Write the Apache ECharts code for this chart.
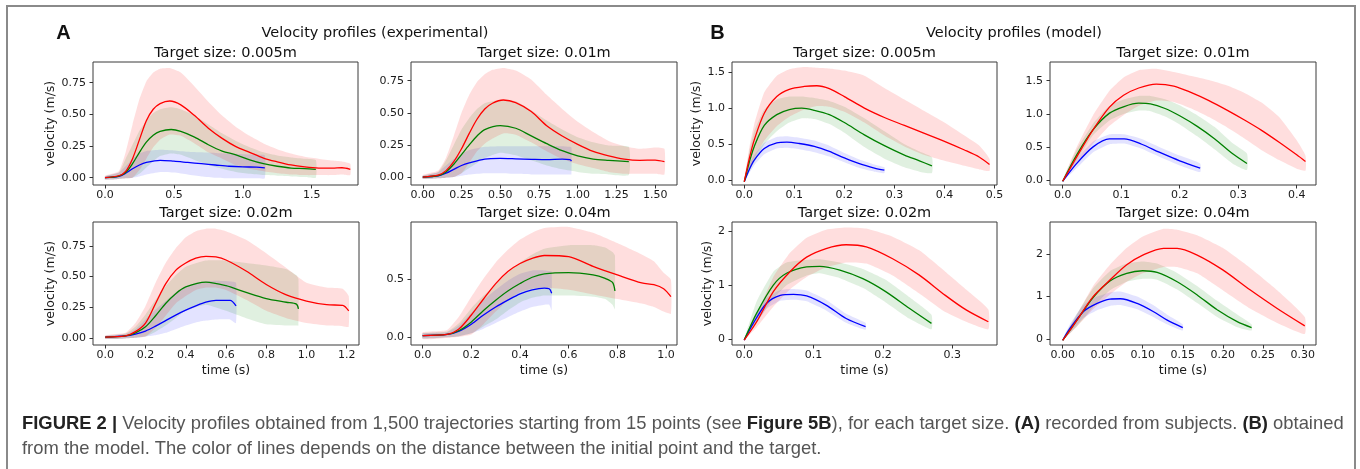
<!DOCTYPE html>
<html>
<head>
<meta charset="utf-8">
<title>Velocity profiles</title>
<script src="https://cdn.jsdelivr.net/npm/echarts@6/dist/echarts.min.js"></script>
<style>
	html, body { margin: 0; padding: 0; background: #fff; }
	#chart { width: 1360px; height: 469px; }
</style>
</head>
<body>
<div id="chart"></div>
<script>
// rows: [time, mean, lower, upper]
// (A) experimental
const a1Red = [[0, 0, -0.015, 0.015], [0.1, 0.015, -0.01, 0.05], [0.15, 0.05, -0.005, 0.2], [0.2, 0.15, 0, 0.42], [0.25, 0.3, 0.06, 0.62], [0.3, 0.45, 0.15, 0.76], [0.35, 0.54, 0.24, 0.83], [0.4, 0.585, 0.3, 0.86], [0.47, 0.605, 0.34, 0.865], [0.55, 0.575, 0.33, 0.83], [0.65, 0.49, 0.27, 0.72], [0.75, 0.39, 0.2, 0.6], [0.85, 0.31, 0.15, 0.49], [0.95, 0.245, 0.1, 0.4], [1.05, 0.2, 0.07, 0.33], [1.15, 0.155, 0.05, 0.27], [1.25, 0.125, 0.035, 0.225], [1.35, 0.1, 0.025, 0.19], [1.45, 0.085, 0.02, 0.165], [1.55, 0.076, 0.02, 0.15], [1.65, 0.075, 0.02, 0.135], [1.72, 0.078, 0.025, 0.128], [1.78, 0.066, 0.02, 0.11]]
const a1Green = [[0, 0, -0.015, 0.01], [0.1, 0.012, -0.01, 0.04], [0.15, 0.04, -0.005, 0.15], [0.2, 0.11, 0, 0.26], [0.25, 0.2, 0.03, 0.37], [0.3, 0.28, 0.08, 0.45], [0.35, 0.335, 0.13, 0.51], [0.4, 0.365, 0.17, 0.54], [0.48, 0.38, 0.19, 0.555], [0.55, 0.365, 0.18, 0.54], [0.65, 0.32, 0.14, 0.49], [0.75, 0.26, 0.1, 0.42], [0.85, 0.21, 0.07, 0.35], [0.95, 0.18, 0.045, 0.29], [1.05, 0.14, 0.03, 0.24], [1.15, 0.11, 0.02, 0.2], [1.25, 0.09, 0.015, 0.175], [1.35, 0.076, 0.01, 0.16], [1.45, 0.072, 0.005, 0.15], [1.53, 0.066, 0, 0.14]]
const a1Blue = [[0, 0, -0.015, 0.01], [0.1, 0.01, -0.01, 0.04], [0.15, 0.035, -0.005, 0.09], [0.2, 0.07, 0, 0.15], [0.25, 0.1, 0.01, 0.19], [0.3, 0.12, 0.025, 0.21], [0.4, 0.137, 0.045, 0.22], [0.5, 0.13, 0.04, 0.215], [0.6, 0.12, 0.025, 0.205], [0.7, 0.11, 0.01, 0.2], [0.8, 0.1, 0, 0.195], [0.9, 0.09, -0.005, 0.19], [1.0, 0.085, -0.005, 0.185], [1.1, 0.083, -0.005, 0.18], [1.16, 0.078, -0.005, 0.175]]

const a2Red = [[0, 0, -0.015, 0.015], [0.1, 0.015, -0.01, 0.05], [0.15, 0.05, -0.005, 0.15], [0.2, 0.12, 0, 0.32], [0.25, 0.22, 0.03, 0.5], [0.3, 0.34, 0.11, 0.64], [0.35, 0.45, 0.2, 0.74], [0.4, 0.53, 0.26, 0.8], [0.45, 0.575, 0.3, 0.835], [0.52, 0.6, 0.34, 0.85], [0.6, 0.58, 0.33, 0.83], [0.7, 0.51, 0.27, 0.76], [0.8, 0.4, 0.2, 0.64], [0.9, 0.32, 0.14, 0.53], [1.0, 0.255, 0.1, 0.43], [1.1, 0.2, 0.07, 0.35], [1.2, 0.165, 0.04, 0.28], [1.3, 0.14, 0.025, 0.24], [1.4, 0.13, 0.025, 0.22], [1.5, 0.132, 0.025, 0.23], [1.56, 0.12, 0.02, 0.22]]
const a2Green = [[0, 0, -0.015, 0.01], [0.1, 0.012, -0.01, 0.04], [0.15, 0.04, -0.005, 0.13], [0.2, 0.1, 0, 0.25], [0.25, 0.175, 0.03, 0.37], [0.3, 0.25, 0.07, 0.46], [0.35, 0.32, 0.11, 0.53], [0.4, 0.37, 0.15, 0.575], [0.5, 0.4, 0.19, 0.6], [0.6, 0.38, 0.17, 0.59], [0.7, 0.32, 0.13, 0.52], [0.8, 0.26, 0.09, 0.44], [0.9, 0.205, 0.06, 0.37], [1.0, 0.165, 0.04, 0.31], [1.1, 0.14, 0.025, 0.27], [1.2, 0.13, 0.02, 0.245], [1.33, 0.12, 0.015, 0.235]]
const a2Blue = [[0, 0, -0.015, 0.01], [0.1, 0.01, -0.01, 0.04], [0.15, 0.03, -0.005, 0.09], [0.2, 0.06, 0, 0.14], [0.25, 0.09, 0.01, 0.18], [0.3, 0.11, 0.02, 0.21], [0.4, 0.14, 0.03, 0.235], [0.5, 0.145, 0.03, 0.24], [0.6, 0.142, 0.025, 0.24], [0.7, 0.138, 0.02, 0.24], [0.8, 0.135, 0.02, 0.24], [0.9, 0.14, 0.02, 0.24], [0.95, 0.135, 0.02, 0.235], [0.96, 0.125, 0.02, 0.23]]

const a3Red = [[0, 0.005, -0.01, 0.02], [0.1, 0.015, -0.005, 0.04], [0.15, 0.05, 0, 0.12], [0.2, 0.12, 0.01, 0.26], [0.25, 0.28, 0.08, 0.45], [0.3, 0.44, 0.18, 0.61], [0.35, 0.55, 0.28, 0.73], [0.4, 0.61, 0.34, 0.82], [0.45, 0.65, 0.39, 0.87], [0.5, 0.665, 0.41, 0.89], [0.55, 0.66, 0.41, 0.89], [0.6, 0.635, 0.39, 0.87], [0.7, 0.545, 0.31, 0.8], [0.8, 0.435, 0.22, 0.69], [0.9, 0.35, 0.16, 0.57], [1.0, 0.3, 0.12, 0.45], [1.1, 0.27, 0.1, 0.41], [1.18, 0.265, 0.095, 0.4], [1.21, 0.22, 0.09, 0.34]]
const a3Green = [[0, 0.005, -0.01, 0.015], [0.1, 0.015, -0.005, 0.035], [0.15, 0.04, 0, 0.09], [0.2, 0.09, 0.01, 0.19], [0.25, 0.18, 0.05, 0.31], [0.3, 0.28, 0.1, 0.42], [0.35, 0.36, 0.16, 0.51], [0.4, 0.415, 0.22, 0.58], [0.5, 0.455, 0.27, 0.63], [0.6, 0.425, 0.22, 0.63], [0.7, 0.37, 0.16, 0.61], [0.8, 0.32, 0.11, 0.59], [0.9, 0.29, 0.1, 0.56], [0.95, 0.275, 0.1, 0.51], [0.96, 0.235, 0.1, 0.48]]
const a3Blue = [[0, 0.005, -0.01, 0.015], [0.1, 0.015, -0.005, 0.03], [0.15, 0.03, 0, 0.07], [0.2, 0.055, 0.01, 0.15], [0.25, 0.095, 0.02, 0.23], [0.3, 0.14, 0.04, 0.3], [0.35, 0.185, 0.07, 0.37], [0.4, 0.225, 0.1, 0.42], [0.45, 0.26, 0.125, 0.45], [0.5, 0.29, 0.14, 0.46], [0.55, 0.305, 0.15, 0.465], [0.62, 0.305, 0.15, 0.46], [0.65, 0.26, 0.12, 0.45]]

const a4Red = [[0, 0.01, -0.02, 0.04], [0.1, 0.02, -0.01, 0.06], [0.15, 0.07, 0, 0.18], [0.2, 0.19, 0.02, 0.35], [0.25, 0.33, 0.11, 0.51], [0.3, 0.465, 0.22, 0.65], [0.35, 0.57, 0.32, 0.76], [0.4, 0.64, 0.39, 0.85], [0.45, 0.685, 0.42, 0.91], [0.5, 0.71, 0.43, 0.95], [0.6, 0.7, 0.41, 0.96], [0.7, 0.615, 0.37, 0.91], [0.8, 0.54, 0.33, 0.82], [0.9, 0.47, 0.29, 0.72], [0.95, 0.455, 0.26, 0.66], [0.99, 0.42, 0.22, 0.56], [1.02, 0.35, 0.2, 0.5]]
const a4Green = [[0, 0.01, -0.015, 0.03], [0.1, 0.02, -0.005, 0.045], [0.15, 0.055, 0.005, 0.12], [0.2, 0.13, 0.03, 0.25], [0.25, 0.23, 0.09, 0.36], [0.3, 0.32, 0.15, 0.46], [0.35, 0.4, 0.23, 0.56], [0.4, 0.465, 0.3, 0.65], [0.45, 0.52, 0.34, 0.72], [0.5, 0.55, 0.36, 0.77], [0.6, 0.56, 0.36, 0.8], [0.7, 0.54, 0.35, 0.8], [0.75, 0.51, 0.33, 0.78], [0.78, 0.475, 0.28, 0.74], [0.79, 0.4, 0.24, 0.71]]
const a4Blue = [[0, 0.01, -0.015, 0.03], [0.1, 0.02, -0.005, 0.04], [0.15, 0.05, 0.005, 0.1], [0.2, 0.11, 0.03, 0.21], [0.25, 0.19, 0.07, 0.32], [0.3, 0.26, 0.12, 0.41], [0.35, 0.32, 0.17, 0.49], [0.4, 0.375, 0.22, 0.55], [0.45, 0.41, 0.26, 0.58], [0.5, 0.425, 0.28, 0.58], [0.52, 0.42, 0.28, 0.575], [0.53, 0.38, 0.23, 0.57]]

// (B) model
const b1Red = [[0, -0.02, -0.02, 0], [0.01, 0.3, 0.15, 0.45], [0.02, 0.56, 0.3, 0.78], [0.04, 0.93, 0.55, 1.22], [0.065, 1.16, 0.75, 1.45], [0.09, 1.26, 0.88, 1.54], [0.12, 1.3, 0.98, 1.57], [0.145, 1.31, 1.03, 1.56], [0.17, 1.27, 1.02, 1.55], [0.2, 1.16, 0.95, 1.52], [0.24, 1.0, 0.8, 1.45], [0.28, 0.87, 0.62, 1.28], [0.32, 0.76, 0.47, 1.12], [0.36, 0.65, 0.35, 0.96], [0.4, 0.54, 0.27, 0.8], [0.44, 0.42, 0.2, 0.62], [0.47, 0.32, 0.15, 0.48], [0.49, 0.22, 0.13, 0.3]]
const b1Green = [[0, -0.02, -0.02, 0], [0.01, 0.25, 0.12, 0.4], [0.02, 0.47, 0.25, 0.68], [0.04, 0.76, 0.5, 0.98], [0.065, 0.91, 0.68, 1.12], [0.09, 0.98, 0.8, 1.16], [0.115, 1.0, 0.86, 1.16], [0.14, 0.97, 0.85, 1.14], [0.17, 0.91, 0.78, 1.1], [0.2, 0.8, 0.66, 1.02], [0.24, 0.63, 0.46, 0.86], [0.28, 0.48, 0.3, 0.68], [0.32, 0.35, 0.18, 0.5], [0.35, 0.27, 0.12, 0.4], [0.375, 0.2, 0.1, 0.32]]
const b1Blue = [[0, -0.02, -0.02, 0], [0.01, 0.15, 0.1, 0.22], [0.02, 0.28, 0.21, 0.35], [0.04, 0.44, 0.36, 0.52], [0.065, 0.52, 0.44, 0.6], [0.085, 0.53, 0.45, 0.61], [0.11, 0.51, 0.43, 0.59], [0.14, 0.47, 0.39, 0.55], [0.17, 0.4, 0.33, 0.48], [0.2, 0.31, 0.25, 0.38], [0.23, 0.23, 0.17, 0.29], [0.26, 0.17, 0.12, 0.22], [0.28, 0.14, 0.1, 0.18]]

const b2Red = [[0, -0.02, -0.02, 0], [0.024, 0.35, 0.25, 0.5], [0.052, 0.76, 0.55, 0.98], [0.08, 1.1, 0.82, 1.35], [0.104, 1.28, 0.98, 1.55], [0.13, 1.39, 1.12, 1.66], [0.16, 1.45, 1.2, 1.68], [0.19, 1.42, 1.18, 1.63], [0.22, 1.32, 1.08, 1.57], [0.25, 1.2, 0.95, 1.51], [0.28, 1.06, 0.8, 1.43], [0.31, 0.91, 0.63, 1.32], [0.34, 0.75, 0.45, 1.17], [0.37, 0.57, 0.3, 0.95], [0.4, 0.38, 0.17, 0.6], [0.415, 0.28, 0.14, 0.37]]
const b2Green = [[0, -0.02, -0.02, 0], [0.024, 0.38, 0.3, 0.46], [0.052, 0.76, 0.68, 0.85], [0.08, 1.01, 0.9, 1.12], [0.105, 1.11, 1.0, 1.22], [0.13, 1.16, 1.05, 1.27], [0.15, 1.15, 1.04, 1.27], [0.175, 1.08, 0.96, 1.22], [0.2, 0.97, 0.84, 1.13], [0.23, 0.81, 0.66, 0.98], [0.26, 0.62, 0.46, 0.8], [0.29, 0.4, 0.25, 0.56], [0.315, 0.25, 0.15, 0.4]]
const b2Blue = [[0, -0.02, -0.02, 0], [0.024, 0.25, 0.18, 0.32], [0.052, 0.5, 0.42, 0.58], [0.08, 0.62, 0.54, 0.69], [0.105, 0.62, 0.55, 0.69], [0.135, 0.54, 0.47, 0.62], [0.165, 0.42, 0.35, 0.5], [0.2, 0.29, 0.22, 0.37], [0.235, 0.18, 0.12, 0.25]]

const b3Red = [[0, -0.02, -0.02, 0], [0.018, 0.32, 0.22, 0.45], [0.042, 0.88, 0.6, 1.15], [0.066, 1.25, 0.92, 1.6], [0.09, 1.52, 1.15, 1.88], [0.118, 1.68, 1.33, 2.03], [0.147, 1.75, 1.42, 2.07], [0.176, 1.71, 1.4, 2.05], [0.214, 1.49, 1.18, 1.9], [0.252, 1.19, 0.85, 1.65], [0.29, 0.81, 0.5, 1.25], [0.32, 0.54, 0.32, 0.92], [0.352, 0.32, 0.18, 0.55]]
const b3Green = [[0, -0.02, -0.02, 0], [0.018, 0.48, 0.3, 0.7], [0.042, 1.0, 0.75, 1.25], [0.061, 1.22, 1.0, 1.42], [0.09, 1.34, 1.18, 1.47], [0.109, 1.35, 1.22, 1.48], [0.138, 1.28, 1.13, 1.42], [0.171, 1.12, 0.95, 1.3], [0.204, 0.88, 0.68, 1.1], [0.238, 0.57, 0.38, 0.78], [0.27, 0.29, 0.18, 0.45]]
const b3Blue = [[0, -0.02, -0.02, 0], [0.013, 0.29, 0.2, 0.38], [0.032, 0.66, 0.56, 0.76], [0.052, 0.81, 0.71, 0.91], [0.071, 0.83, 0.73, 0.93], [0.09, 0.8, 0.7, 0.9], [0.118, 0.63, 0.53, 0.73], [0.147, 0.38, 0.3, 0.47], [0.175, 0.23, 0.17, 0.3]]

const b4Red = [[0, -0.03, -0.03, 0], [0.018, 0.45, 0.3, 0.58], [0.038, 1.0, 0.7, 1.25], [0.059, 1.39, 1.05, 1.75], [0.08, 1.75, 1.35, 2.15], [0.1, 1.98, 1.55, 2.42], [0.126, 2.14, 1.7, 2.6], [0.143, 2.14, 1.7, 2.58], [0.168, 1.98, 1.55, 2.45], [0.2, 1.63, 1.15, 2.15], [0.234, 1.16, 0.72, 1.68], [0.268, 0.72, 0.38, 1.15], [0.3025, 0.31, 0.12, 0.52]]
const b4Green = [[0, -0.03, -0.03, 0], [0.018, 0.45, 0.3, 0.6], [0.038, 0.98, 0.75, 1.2], [0.059, 1.37, 1.15, 1.6], [0.08, 1.55, 1.35, 1.78], [0.1, 1.61, 1.42, 1.83], [0.118, 1.57, 1.4, 1.78], [0.143, 1.35, 1.17, 1.56], [0.168, 1.04, 0.85, 1.25], [0.193, 0.69, 0.52, 0.9], [0.218, 0.41, 0.28, 0.58], [0.236, 0.27, 0.2, 0.35]]
const b4Blue = [[0, -0.03, -0.03, 0], [0.009, 0.25, 0.15, 0.35], [0.026, 0.65, 0.5, 0.8], [0.043, 0.84, 0.68, 1.0], [0.059, 0.94, 0.78, 1.1], [0.072, 0.95, 0.8, 1.12], [0.093, 0.84, 0.7, 1.0], [0.113, 0.65, 0.52, 0.8], [0.13, 0.45, 0.35, 0.58], [0.15, 0.27, 0.2, 0.35]]

// tick labels
const a1TicksX = [0, 0.5, 1.0, 1.5]
const a2TicksX = [0, 0.25, 0.5, 0.75, 1.0, 1.25, 1.5]
const a3TicksX = [0, 0.2, 0.4, 0.6, 0.8, 1.0, 1.2]
const a4TicksX = [0, 0.2, 0.4, 0.6, 0.8, 1.0]
const aTicksY = [0, 0.25, 0.5, 0.75]
const a4TicksY = [0, 0.5]
const b1TicksX = [0, 0.1, 0.2, 0.3, 0.4, 0.5]
const b2TicksX = [0, 0.1, 0.2, 0.3, 0.4]
const b3TicksX = [0, 0.1, 0.2, 0.3]
const b4TicksX = [0, 0.05, 0.1, 0.15, 0.2, 0.25, 0.3]
const bTopTicksY = [0, 0.5, 1.0, 1.5]
const bBotTicksY = [0, 1, 2]

const sizes = ['0.005m', '0.01m', '0.02m', '0.04m']

const FONT = "'DejaVu Sans', sans-serif"
const lineColor = { red: '#ff0000', green: '#008000', blue: '#0000ff' }
const bandColor = { red: 'rgba(255,0,0,0.13)', green: 'rgba(0,128,0,0.12)', blue: 'rgba(0,0,255,0.11)' }

// one entry per subplot
const panels = [
	{ box: [93, 62, 265, 123], x: [-0.087, 1.836], y: [-0.058, 0.913], tx: a1TicksX, ty: aTicksY, dx: 1, dy: 2, title: sizes[0], yName: 39, curves: { blue: a1Blue, green: a1Green, red: a1Red } },
	{ box: [411, 62, 266, 123], x: [-0.076, 1.641], y: [-0.062, 0.896], tx: a2TicksX, ty: aTicksY, dx: 2, dy: 2, title: sizes[1], curves: { blue: a2Blue, green: a2Green, red: a2Red } },
	{ box: [93, 222, 266, 123], x: [-0.061, 1.261], y: [-0.059, 0.945], tx: a3TicksX, ty: aTicksY, dx: 1, dy: 2, title: sizes[2], yName: 39, xName: true, curves: { blue: a3Blue, green: a3Green, red: a3Red } },
	{ box: [411, 222, 266, 123], x: [-0.048, 1.045], y: [-0.072, 1.003], tx: a4TicksX, ty: a4TicksY, dx: 1, dy: 1, title: sizes[3], xName: true, curves: { blue: a4Blue, green: a4Green, red: a4Red } },
	{ box: [732, 62, 265, 123], x: [-0.0245, 0.505], y: [-0.065, 1.639], tx: b1TicksX, ty: bTopTicksY, dx: 1, dy: 1, title: sizes[0], yName: 32, curves: { blue: b1Blue, green: b1Green, red: b1Red } },
	{ box: [1050, 62, 266, 123], x: [-0.0217, 0.433], y: [-0.076, 1.783], tx: b2TicksX, ty: bTopTicksY, dx: 1, dy: 1, title: sizes[1], curves: { blue: b2Blue, green: b2Green, red: b2Red } },
	{ box: [732, 222, 265, 123], x: [-0.0176, 0.3645], y: [-0.111, 2.172], tx: b3TicksX, ty: bBotTicksY, dx: 1, dy: 0, title: sizes[2], yName: 16, xName: true, curves: { blue: b3Blue, green: b3Green, red: b3Red } },
	{ box: [1050, 222, 266, 123], x: [-0.0159, 0.3165], y: [-0.141, 2.76], tx: b4TicksX, ty: bBotTicksY, dx: 2, dy: 0, title: sizes[3], xName: true, curves: { blue: b4Blue, green: b4Green, red: b4Red } }
]

const grid = []
const xAxis = []
const yAxis = []
const series = []
const graphics = []

// filled band between lower and upper, drawn with the axis scales
function bandSeries (i, rows, fill) {
	return {
		type: 'custom', xAxisIndex: i, yAxisIndex: i, silent: true, clip: true, z: 1,
		data: rows.map(r => [r[0], r[2], r[3]]),
		encode: { x: 0, y: [1, 2] },
		renderItem (params, api) {
			if (params.dataIndex !== 0) return null
			const upper = rows.map(r => api.coord([r[0], r[3]]))
			const lower = rows.map(r => api.coord([r[0], r[2]])).reverse()
			return {
				type: 'polygon',
				shape: { points: upper.concat(lower), smooth: 0.15 },
				style: { fill: fill, stroke: null }
			}
		}
	}
}

panels.forEach((p, i) => {
	grid.push({
		left: p.box[0], top: p.box[1], width: p.box[2], height: p.box[3],
		show: true, borderColor: '#3a3a3a', borderWidth: 1, backgroundColor: 'transparent',
		containLabel: false, outerBoundsMode: 'none'
	})
	xAxis.push({
		type: 'value', gridIndex: i, min: p.x[0], max: p.x[1],
		axisLine: { show: false, onZero: false },
		axisTick: { show: true, customValues: p.tx, length: 3.5, lineStyle: { color: '#333' } },
		axisLabel: { customValues: p.tx, margin: 5, fontSize: 11, fontFamily: FONT, color: '#1a1a1a', formatter: v => v.toFixed(p.dx) },
		splitLine: { show: false },
		name: p.xName ? 'time (s)' : '', nameLocation: 'middle', nameGap: 19,
		nameTextStyle: { fontSize: 12.5, fontFamily: FONT, color: '#1a1a1a' }
	})
	yAxis.push({
		type: 'value', gridIndex: i, min: p.y[0], max: p.y[1],
		axisLine: { show: false, onZero: false },
		axisTick: { show: true, customValues: p.ty, length: 3.5, lineStyle: { color: '#333' } },
		axisLabel: { customValues: p.ty, margin: 7, fontSize: 11, fontFamily: FONT, color: '#1a1a1a', formatter: v => v.toFixed(p.dy) },
		splitLine: { show: false },
		name: p.yName ? 'velocity (m/s)' : '', nameLocation: 'middle', nameRotate: 90, nameGap: p.yName ? p.yName - 6 : 0,
		nameTextStyle: { fontSize: 12.5, fontFamily: FONT, color: '#1a1a1a' }
	})

	// shaded bands first, then the mean lines on top
	;['blue', 'green', 'red'].forEach(c => {
		series.push(bandSeries(i, p.curves[c], bandColor[c]))
	})
	;['blue', 'green', 'red'].forEach(c => {
		series.push({
			type: 'line', xAxisIndex: i, yAxisIndex: i,
			data: p.curves[c].map(r => [r[0], r[1]]), smooth: 0.3, symbol: 'none', silent: true,
			lineStyle: { color: lineColor[c], width: 1.3 }, itemStyle: { color: lineColor[c] }, z: 3
		})
	})

	// subplot title
	graphics.push({
		type: 'text', x: p.box[0] + p.box[2] / 2, y: p.box[1] - 8.5,
		style: { text: 'Target size: ' + p.title, fontSize: 14.5, fontFamily: FONT, fill: '#111', textAlign: 'center', align: 'center', textVerticalAlign: 'middle', verticalAlign: 'middle' }
	})
})

// figure frame, panel letters and group titles
graphics.push(
	{ type: 'rect', shape: { x: 7, y: 6, width: 1348, height: 520 }, style: { fill: 'none', stroke: '#8a8a8a', lineWidth: 2 }, z: -1 },
	{ type: 'text', x: 63.5, y: 33, style: { text: 'A', fontSize: 20, fontWeight: 'bold', fontFamily: "'Liberation Sans', Arial, sans-serif", fill: '#111', textAlign: 'center', align: 'center', textVerticalAlign: 'middle', verticalAlign: 'middle' } },
	{ type: 'text', x: 717.5, y: 33, style: { text: 'B', fontSize: 20, fontWeight: 'bold', fontFamily: "'Liberation Sans', Arial, sans-serif", fill: '#111', textAlign: 'center', align: 'center', textVerticalAlign: 'middle', verticalAlign: 'middle' } },
	{ type: 'text', x: 375, y: 33, style: { text: 'Velocity profiles (experimental)', fontSize: 14.5, fontFamily: FONT, fill: '#111', textAlign: 'center', align: 'center', textVerticalAlign: 'middle', verticalAlign: 'middle' } },
	{ type: 'text', x: 1014, y: 33, style: { text: 'Velocity profiles (model)', fontSize: 14.5, fontFamily: FONT, fill: '#111', textAlign: 'center', align: 'center', textVerticalAlign: 'middle', verticalAlign: 'middle' } }
)

// caption
const capFont = "'Liberation Sans', Arial, sans-serif"
const capSize = 18.4
const capRich = {
	b: { fontSize: capSize, fontFamily: capFont, fontWeight: 'bold', color: '#222', fill: '#222' },
	n: { fontSize: capSize, fontFamily: capFont, color: '#555', fill: '#555' }
}
graphics.push(
	{ type: 'text', x: 22, y: 424, style: { text: '{b|FIGURE 2 |}{n| Velocity profiles obtained from 1,500 trajectories starting from 15 points (see }{b|Figure 5B}{n|), for each target size. }{b|(A)}{n| recorded from subjects. }{b|(B)}{n| obtained}', fontSize: capSize, fontFamily: capFont, fill: '#555', rich: capRich, textVerticalAlign: 'middle', verticalAlign: 'middle' } },
	{ type: 'text', x: 22, y: 449, style: { text: 'from the model. The color of lines depends on the distance between the initial point and the target.', fontSize: capSize, fontFamily: capFont, fill: '#555', textVerticalAlign: 'middle', verticalAlign: 'middle' } }
)

const chart = echarts.init(document.getElementById('chart'), null, { renderer: 'canvas' })
chart.setOption({
	animation: false,
	backgroundColor: '#fff',
	grid: grid,
	xAxis: xAxis,
	yAxis: yAxis,
	series: series,
	graphic: { elements: graphics }
})
</script>
</body>
</html>
